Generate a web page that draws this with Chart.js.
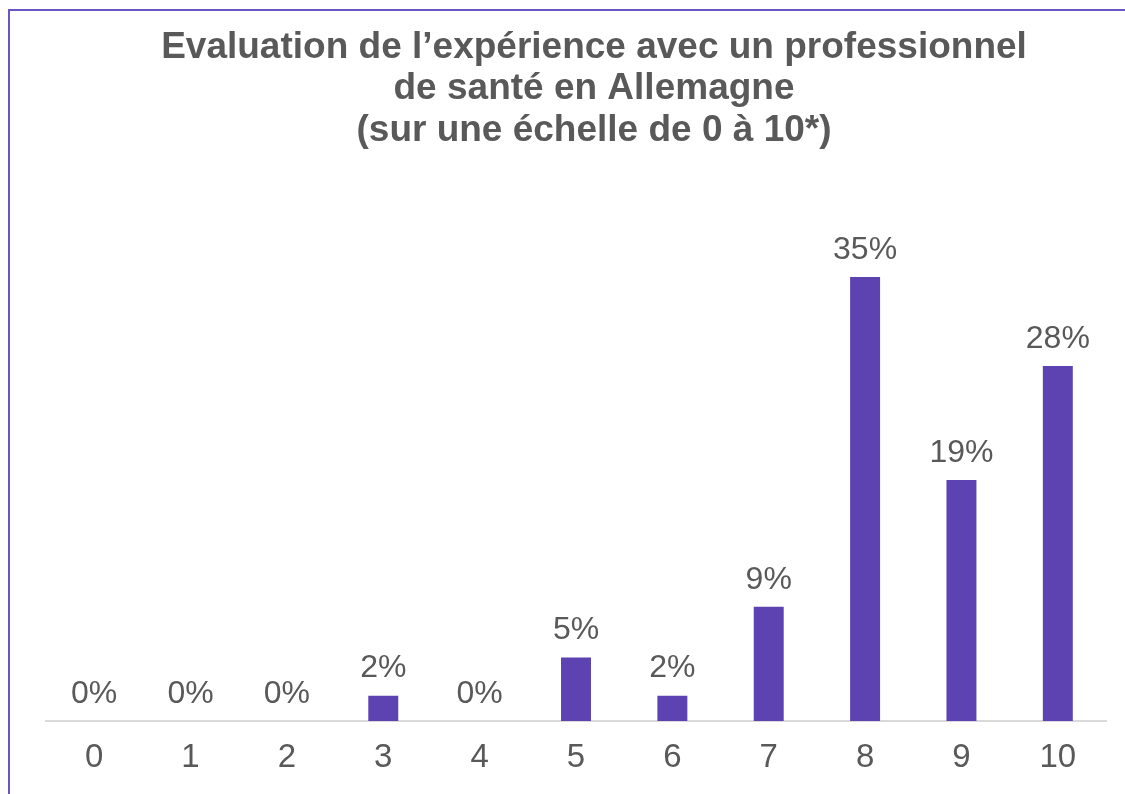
<!DOCTYPE html>
<html>
<head>
<meta charset="utf-8">
<script src="https://cdn.jsdelivr.net/npm/chart.js@4"></script>
<style>
    html, body { margin: 0; padding: 0; background: #fff; }
    #wrap { position: relative; width: 1125px; height: 794px; overflow: hidden; }
    #frame {
        position: absolute; left: 8px; top: 9px; width: 1200px; height: 900px;
        border-top: 2px solid #6a55c6; border-left: 2px solid #6a55c6;
    }
    #canvas { position: absolute; left: 0; top: 0; }
</style>
</head>
<body>
<div id="wrap">
    <div id="frame"></div>
    <canvas id="canvas" width="1125" height="794"></canvas>
</div>
<script>
var titleLines = ['Evaluation de l\u2019exp\u00e9rience avec un professionnel', 'de sant\u00e9 en Allemagne', '(sur une \u00e9chelle de 0 \u00e0 10*)'];
var scoreLabels = ['0', '1', '2', '3', '4', '5', '6', '7', '8', '9', '10'];
var shareValues = [0, 0, 0, 2, 0, 5, 2, 9, 35, 19, 28];

var fontFamily = '"Liberation Sans", Arial, Helvetica, sans-serif';
var textGrey = '#595959';

document.addEventListener('DOMContentLoaded', function () {
    var canvas = document.getElementById('canvas');

    // title is centred a bit right of the plot area in the original
    var shiftTitle = {
        id: 'shiftTitle',
        afterLayout: function (chart) {
            chart.titleBlock.left += 18;
            chart.titleBlock.right += 18;
        }
    };

    // percentage above each bar
    var valueLabels = {
        id: 'valueLabels',
        afterDatasetsDraw: function (chart) {
            var ctx = chart.ctx;
            var meta = chart.getDatasetMeta(0);
            ctx.save();
            ctx.font = '32px ' + fontFamily;
            ctx.fillStyle = textGrey;
            ctx.textAlign = 'center';
            ctx.textBaseline = 'middle';
            meta.data.forEach(function (bar, i) {
                ctx.fillText(shareValues[i] + '%', bar.x, bar.y - 27);
            });
            ctx.restore();
        }
    };

    var config = {
        type: 'bar',
        data: {
            labels: scoreLabels,
            datasets: [{
                data: shareValues,
                backgroundColor: '#5d43b1',
                borderWidth: 0,
                barPercentage: 1,
                categoryPercentage: 0.311
            }]
        },
        options: {
            responsive: false,
            animation: false,
            layout: {
                padding: { top: 4, left: 46, right: 19, bottom: 0 }
            },
            plugins: {
                legend: { display: false },
                tooltip: { enabled: false },
                title: {
                    display: true,
                    text: titleLines,
                    color: textGrey,
                    font: { family: fontFamily, size: 37, weight: 'bold', lineHeight: 1.12 },
                    padding: { top: 23, bottom: 37 }
                }
            },
            scales: {
                x: {
                    grid: { display: false, drawTicks: false },
                    border: { display: true, color: '#d9d9d9', width: 2 },
                    ticks: {
                        color: textGrey,
                        font: { family: fontFamily, size: 33, lineHeight: 1.0 },
                        padding: 20
                    }
                },
                y: {
                    display: false,
                    min: 0,
                    max: 42
                }
            }
        },
        plugins: [shiftTitle, valueLabels]
    };

    window.chart = new Chart(canvas, config);
});
</script>
</body>
</html>
